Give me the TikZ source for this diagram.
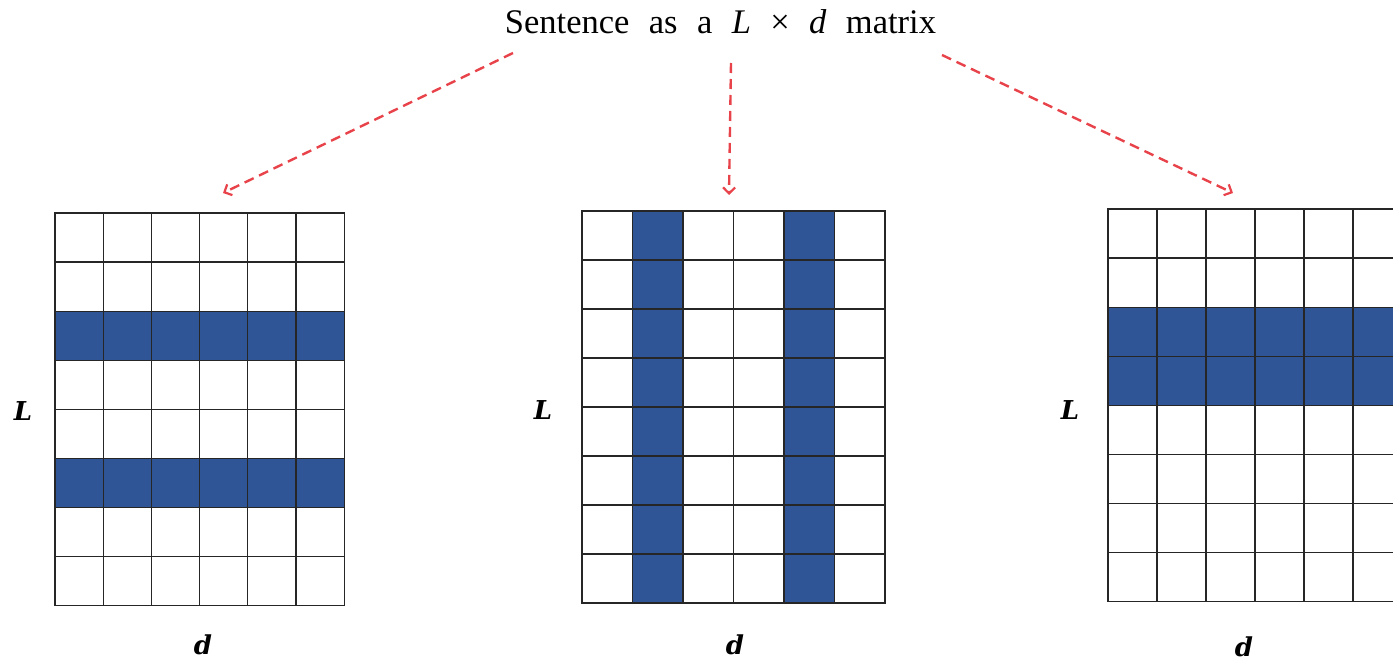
\documentclass[tikz,border=0pt]{standalone}
\usepackage{fontspec}
\setmainfont{Liberation Serif}
\newfontfamily\titlefont[WordSpace=2.25]{Liberation Serif}
\newfontfamily\labelfont{DejaVu Serif}
\usepackage{xcolor}
\usetikzlibrary{arrows.meta}

\definecolor{cellblue}{HTML}{2F5597}
\definecolor{arrowred}{HTML}{E8434B}

\begin{document}
\begin{tikzpicture}[
    x=1pt, y=-1pt,
    font=\fontsize{34.5}{40}\selectfont,
    cell/.style={
        draw=black!85,
        line width=1.3pt
    },
    filled/.style={
        fill=cellblue
    },
    axislabel/.style={
        font=\fontsize{26}{32}\selectfont\labelfont\bfseries\itshape
    },
    arrow/.style={
        -{Straight Barb[length=6pt, width=12pt, line width=2.2pt]},
        arrowred,
        line width=2.4pt,
        dash pattern=on 10pt off 6pt
    }
]

\useasboundingbox (0,0) rectangle (1393,663);
\clip (0,0) rectangle (1393,663);

% Title
\node[anchor=base, font=\fontsize{34.5}{40}\selectfont\titlefont] (title) at (720.5,34)
    {Sentence as a \textit{L} × \textit{d} matrix};

% Row-wise grid
\begin{scope}[shift={(55,213)}]
    \foreach \r in {2,5}
        \fill[filled] (0,\r*49.1) rectangle ++(289.2,49.1);
    \foreach \i in {0,...,5}
        \foreach \j in {0,...,7}
            \draw[cell] (\i*48.2,\j*49.1) rectangle ++(48.2,49.1);
    \coordinate (rowtop) at (168,-20);
\end{scope}
\node[axislabel] (rowL) at (23,411) {L};
\node[axislabel] (rowd) at (203,645) {d};

% Column-wise grid
\begin{scope}[shift={(582,211)}]
    \foreach \c in {1,4}
        \fill[filled] (\c*50.5,0) rectangle ++(50.5,392);
    \foreach \i in {0,...,5}
        \foreach \j in {0,...,7}
            \draw[cell] (\i*50.5,\j*49) rectangle ++(50.5,49);
    \coordinate (coltop) at (147,-16);
\end{scope}
\node[axislabel] (colL) at (543,410) {L};
\node[axislabel] (cold) at (735,645) {d};

% Block grid
\begin{scope}[shift={(1108,209)}]
    \fill[filled] (0,2*49.1) rectangle ++(294,2*49.1);
    \foreach \i in {0,...,5}
        \foreach \j in {0,...,7}
            \draw[cell] (\i*49,\j*49.1) rectangle ++(49,49.1);
    \coordinate (blocktop) at (125,-16);
\end{scope}
\node[axislabel] (blockL) at (1070,410) {L};
\node[axislabel] (blockd) at (1244,647) {d};

% Arrows
\coordinate (from1) at (513,53);
\coordinate (from2) at (731,63);
\coordinate (from3) at (942,55);

\draw[arrow] (from1) -- (rowtop);
\draw[arrow] (from2) -- (coltop);
\draw[arrow] (from3) -- (blocktop);

\end{tikzpicture}
\end{document}
